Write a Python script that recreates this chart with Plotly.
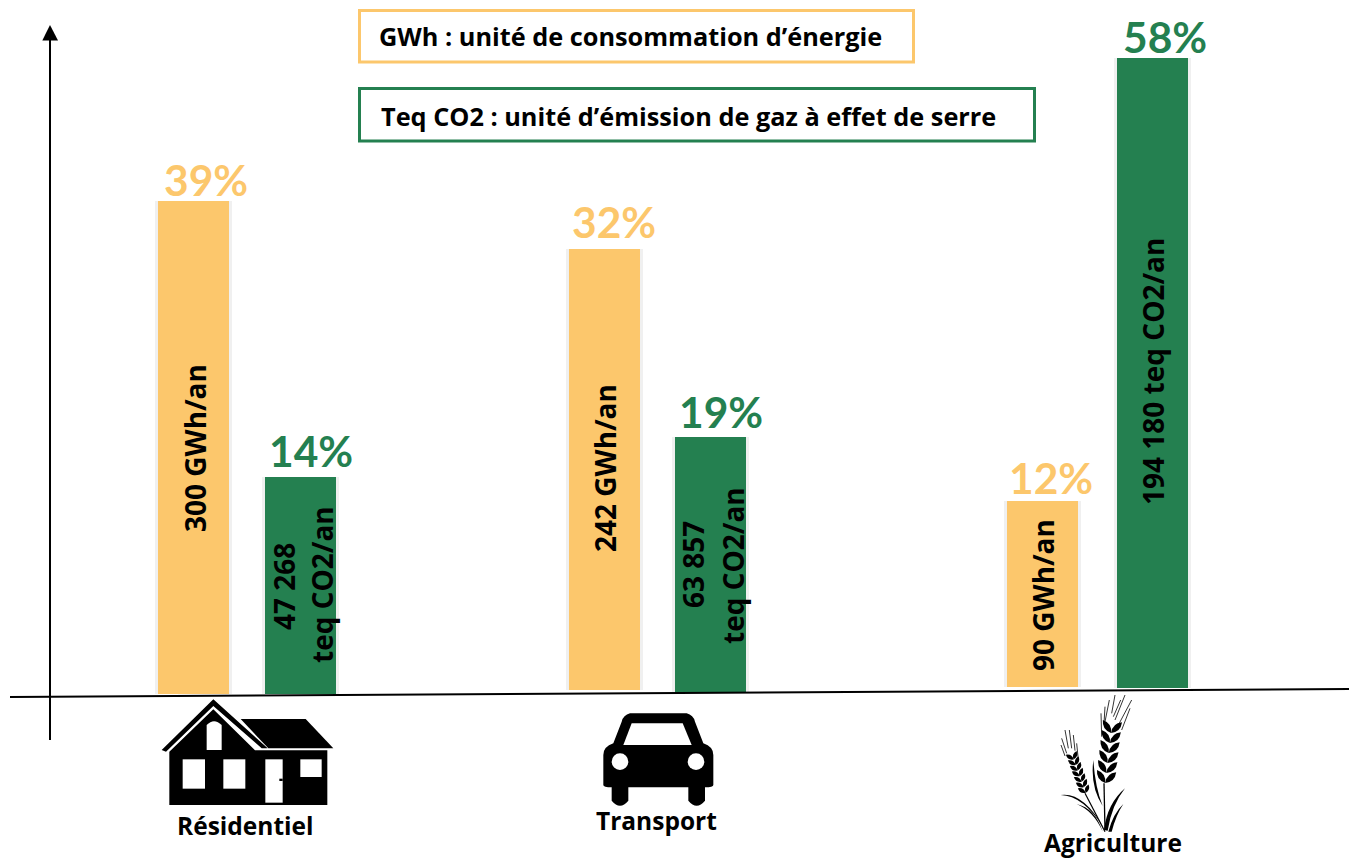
import math
import plotly.graph_objects as go

categories = ["Résidentiel", "Transport", "Agriculture"]
energy_pct = ["39%", "32%", "12%"]
ghg_pct = ["14%", "19%", "58%"]
energy_height = [493, 441, 186]
ghg_height = [217, 256, 630]
energy_base = [0, 4, 7]
ghg_base = [0, 1, 6]
energy_x = [193, 604.5, 1042.5]
ghg_x = [300.5, 710.5, 1152.5]
energy_text = ["300 GWh/an", "242 GWh/an", "90 GWh/an"]
ghg_text_1 = ["47 268", "63 857", None]
ghg_text_2 = ["teq CO2/an", "teq CO2/an", "194 180 teq CO2/an"]
legend_1 = "GWh : unité de consommation d’énergie"
legend_2 = "Teq CO2 : unité d’émission de gaz à effet de serre"

ORANGE = "#FCC76C"
GREEN = "#248050"
BODY = "Open Sans"
PCT = "Lato"
BAR_W = 71

fig = go.Figure()
for xs, hs, bs in ((energy_x, energy_height, energy_base), (ghg_x, ghg_height, ghg_base)):
    fig.add_bar(x=xs, y=hs, base=bs, width=BAR_W + 6, offset=-(BAR_W + 6) / 2,
                marker=dict(color="rgba(110,110,110,0.10)", line_width=0),
                showlegend=False, hoverinfo="skip")
fig.add_bar(x=energy_x, y=energy_height, base=energy_base, width=BAR_W, name="GWh",
            marker=dict(color=ORANGE, line_width=0), showlegend=False)
fig.add_bar(x=ghg_x, y=ghg_height, base=ghg_base, width=BAR_W, name="Teq CO2",
            marker=dict(color=GREEN, line_width=0), showlegend=False)

shapes = []
def add_shape(**kw):
    shapes.append(dict(xref="x", yref="y2", layer="above", **kw))

def icon(points_path, ox, oy, fill="black", scale=3.0):
    """Path in zoom coordinates -> page pixel coordinates."""
    out = []
    for tok in points_path.split():
        if tok.isalpha():
            out.append(tok)
        else:
            a, b = tok.split(",")
            out.append(f"{ox + float(a) / scale:.2f},{oy + float(b) / scale:.2f}")
    add_shape(type="path", path=" ".join(out), fillcolor=fill, line=dict(width=0))

def stroke(x0, y0, x1, y1, ox, oy, w=1.0):
    add_shape(type="line", x0=ox + x0 / 3, y0=oy + y0 / 3, x1=ox + x1 / 3, y1=oy + y1 / 3,
              line=dict(color="black", width=w))

# axes drawn by hand, as in the slide
add_shape(type="line", x0=10, y0=697, x1=1349, y1=689, line=dict(color="black", width=2))
add_shape(type="line", x0=50, y0=740, x1=50, y1=38, line=dict(color="black", width=2))
add_shape(type="path", path="M 50,25 L 42.3,40.5 L 58,40.5 Z", fillcolor="black", line=dict(width=0))

# legend boxes
add_shape(type="rect", x0=359.5, y0=10.5, x1=913.5, y1=62, line=dict(color=ORANGE, width=3), fillcolor="white")
add_shape(type="rect", x0=359.5, y0=88.5, x1=1034.5, y1=141, line=dict(color=GREEN, width=3), fillcolor="white")

# house
ox, oy = 140, 680
icon("M 65,210 L 220,58 L 383,205 L 365,205 L 220,78 L 78,215 Z", ox, oy)
icon("M 88,375 L 88,215 L 220,88 L 345,211 L 562,211 L 562,375 Z", ox, oy)
icon("M 302,117 L 497,117 L 580,205 L 385,205 Z", ox, oy)
for p in ("M 200,210 L 200,135 Q 222,112 245,135 L 245,210 Z",
          "M 128,238 L 195,238 L 195,326 L 128,326 Z",
          "M 250,238 L 316,238 L 316,326 L 250,326 Z",
          "M 376,238 L 428,238 L 428,368 L 376,368 Z",
          "M 481,238 L 545,238 L 545,291 L 481,291 Z"):
    icon(p, ox, oy, fill="white")
icon("M 418,296 L 428,296 L 428,303 L 418,303 Z", ox, oy)

# car
ox, oy = 580, 680
icon("M 150,100 L 320,100 Q 340,105 345,125 L 370,190 Q 400,200 400,225 L 400,315 Q 400,322 375,322 "
     "L 375,362 Q 350,392 325,362 L 325,322 L 145,322 L 145,362 Q 120,392 95,362 L 95,322 Q 70,322 70,315 "
     "L 70,225 Q 70,200 100,190 L 125,125 Q 130,105 150,100 Z", ox, oy)
icon("M 155,130 L 308,130 L 335,195 L 130,195 Z", ox, oy, fill="white")
for cx in (120, 348):
    add_shape(type="circle", x0=ox + (cx - 25) / 3, x1=ox + (cx + 25) / 3,
              y0=oy + (245 - 25) / 3, y1=oy + (245 + 25) / 3, fillcolor="white", line=dict(width=0))

# wheat
ox, oy = 1030, 680
def ear(bx, by, tx, ty, n, length, width):
    dx, dy = tx - bx, ty - by
    a0 = math.atan2(dy, dx)
    for i in range(n):
        t = (i + 0.2) / n
        px, py = bx + dx * t, by + dy * t
        for sgn in (-1, 1):
            a = a0 + sgn * 0.68
            ex, ey = px + length * math.cos(a), py + length * math.sin(a)
            mx, my = (px + ex) / 2, (py + ey) / 2
            nx, ny = -math.sin(a) * width, math.cos(a) * width
            icon(f"M {px:.1f},{py:.1f} Q {mx + nx:.1f},{my + ny:.1f} {ex:.1f},{ey:.1f} "
                 f"Q {mx - nx:.1f},{my - ny:.1f} {px:.1f},{py:.1f} Z", ox, oy)
ear(225, 315, 246, 135, 6, 46, 18)
ear(168, 342, 126, 225, 7, 27, 12)
stroke(222, 310, 225, 450, ox, oy, 1.3)
stroke(165, 340, 225, 455, ox, oy, 1.2)
for seg in ((215, 170, 213, 100), (225, 125, 238, 60), (245, 100, 255, 45), (255, 120, 285, 45),
            (265, 135, 305, 60), (275, 150, 300, 85), (222, 130, 225, 80), (250, 110, 272, 60),
            (110, 220, 95, 175), (115, 205, 105, 150), (125, 205, 118, 150), (135, 212, 130, 165),
            (145, 240, 140, 190), (105, 228, 93, 195)):
    stroke(*seg, ox, oy, 0.8)
for p in ("M 190,240 Q 180,320 218,378 Q 195,320 190,240 Z",
          "M 222,450 Q 232,370 285,325 Q 245,375 233,452 Z",
          "M 235,455 Q 250,400 280,372 Q 258,405 245,455 Z",
          "M 92,345 Q 160,335 222,445 Q 160,347 92,345 Z",
          "M 140,372 Q 195,385 218,455 Q 190,392 140,372 Z"):
    icon(p, ox, oy)

ann = []
def text(t, x, y, size, color="black", font=BODY, angle=0, anchor="center"):
    ann.append(dict(text=f"<b>{t}</b>", x=x, y=y, xref="x", yref="y2", showarrow=False,
                    xanchor=anchor, yanchor="middle", textangle=angle,
                    font=dict(family=font, size=size, color=color)))

text(legend_1, 630, 36, 25.3)
text(legend_2, 688.5, 116, 25.3)

for t, x, y in zip(energy_pct, (206, 614, 1051), (179, 221, 477)):
    text(t, x, y, 42.5, ORANGE, PCT)
for t, x, y in zip(ghg_pct, (311, 721, 1165), (450, 411, 36)):
    text(t, x, y, 42.5, GREEN, PCT)

for t, x, y in zip(energy_text, (195, 605, 1043), (448, 468, 595)):
    text(t, x, y, 28, angle=-90)
for t, x, y in zip(ghg_text_1, (284, 693, None), (587, 565, None)):
    if t:
        text(t, x, y, 28, angle=-90)
for t, x, y in zip(ghg_text_2, (322, 733, 1153), (585, 566, 372)):
    text(t, x, y, 28, angle=-90)

for t, x, y in zip(categories, (244.5, 656.5, 1112.5), (825, 820, 842.5)):
    text(t, x, y, 24.5)

fig.update_layout(
    width=1349, height=859, autosize=False, margin=dict(l=0, r=0, t=0, b=0),
    paper_bgcolor="white", plot_bgcolor="white", barmode="overlay", bargap=0,
    shapes=shapes, annotations=ann,
    xaxis=dict(range=[0, 1349], visible=False, fixedrange=True),
    yaxis=dict(range=[-165, 694], visible=False, fixedrange=True),
    yaxis2=dict(range=[859, 0], visible=False, overlaying="y", fixedrange=True),
)
fig.write_html("out.html", config=dict(displayModeBar=False),
               post_script="document.body.style.margin='0';document.body.style.overflow='hidden';")
